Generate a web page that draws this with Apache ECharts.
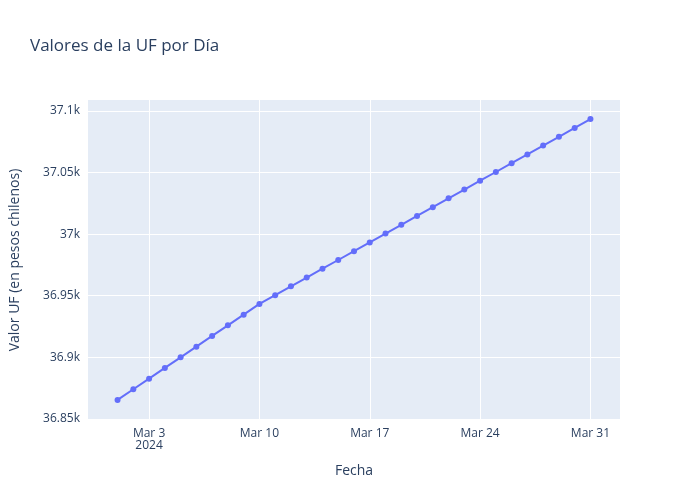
<!DOCTYPE html>
<html><head><meta charset="utf-8">
<script src="https://cdn.jsdelivr.net/npm/echarts@6/dist/echarts.min.js"></script>
<style>body{margin:0}#c{width:700px;height:500px}</style></head>
<body><div id="c"></div>
<script>
const dates = [];
for (let d = 1; d <= 31; d++) dates.push('2024-03-' + String(d).padStart(2, '0'));
const values = [36865.3,36874.0,36882.6,36891.3,36899.9,36908.6,36917.3,36925.9,36934.6,36943.3,
36950.4,36957.6,36964.7,36971.9,36979.0,36986.2,36993.3,37000.5,37007.6,37014.8,
37021.9,37029.1,37036.2,37043.4,37050.5,37057.7,37064.8,37072.0,37079.1,37086.3,37093.5];
const xTickDates = ['2024-03-03','2024-03-10','2024-03-17','2024-03-24','2024-03-31'];
const yTicks = [36850,36900,36950,37000,37050,37100];
const yTickLabels = ['36.85k','36.9k','36.95k','37k','37.05k','37.1k'];

const ts = s => Date.UTC(+s.slice(0,4), +s.slice(5,7)-1, +s.slice(8,10));
const DAY = 86400000;
const months = ['Jan','Feb','Mar','Apr','May','Jun','Jul','Aug','Sep','Oct','Nov','Dec'];
const xTicks = xTickDates.map(ts);
const txt = '#2a3f5f';
const chart = echarts.init(document.getElementById('c'));
chart.setOption({
  backgroundColor: '#fff',
  title: {text: 'Valores de la UF por Día', left: 25, top: 33, textStyle: {fontFamily: 'Open Sans, sans-serif', fontSize: 17, fontWeight: 'normal', color: txt}},
  grid: {left: 80, right: 80, top: 100, bottom: 80, backgroundColor: '#E5ECF6', show: true, borderWidth: 0},
  xAxis: {
    type: 'value', min: ts(dates[0]) - 1.875*DAY, max: ts(dates[30]) + 1.875*DAY,
    name: 'Fecha', nameLocation: 'middle', nameGap: 44,
    nameTextStyle: {fontFamily: 'Open Sans, sans-serif', fontSize: 14, color: txt},
    axisLine: {show: false}, axisTick: {show: false, customValues: xTicks},
    axisLabel: {customValues: xTicks, color: txt, fontSize: 12, fontFamily: 'Open Sans, sans-serif', margin: 8,
      formatter: (v) => { const d = new Date(v); let s = months[d.getUTCMonth()] + ' ' + d.getUTCDate(); if (v === xTicks[0]) s += '\n' + d.getUTCFullYear(); return s; }},
    splitLine: {show: true, lineStyle: {color: '#fff', width: 1}}
  },
  yAxis: {
    type: 'value', min: 36849, max: 37109,
    name: 'Valor UF (en pesos chilenos)', nameLocation: 'middle', nameGap: 66,
    nameTextStyle: {fontFamily: 'Open Sans, sans-serif', fontSize: 14, color: txt},
    axisLine: {show: false}, axisTick: {show: false, customValues: yTicks},
    axisLabel: {customValues: yTicks, color: txt, fontSize: 12, fontFamily: 'Open Sans, sans-serif',
      formatter: v => yTickLabels[yTicks.indexOf(Math.round(v))] || ''},
    splitLine: {show: true, lineStyle: {color: '#fff', width: 1}}
  },
  series: [{type: 'line', data: dates.map((d, i) => [ts(d), values[i]]),
    symbol: 'circle', symbolSize: 6, itemStyle: {color: '#636EFA'}, lineStyle: {color: '#636EFA', width: 2}, animation: false}]
});
</script></body></html>
